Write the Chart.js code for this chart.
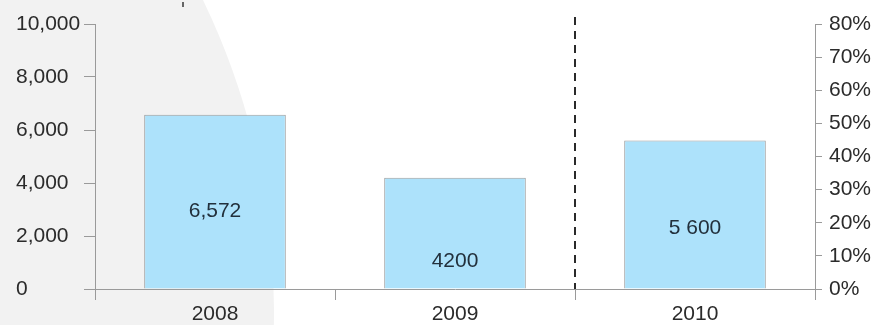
<!DOCTYPE html>
<html>
<head>
<meta charset="utf-8">
<script src="https://cdn.jsdelivr.net/npm/chart.js@4/dist/chart.umd.min.js"></script>
<style>
  html, body { margin: 0; padding: 0; background: #ffffff; }
  #wrap { width: 876px; height: 325px; position: relative; }
</style>
</head>
<body>
<div id="wrap"><canvas id="c" width="876" height="325"></canvas></div>
<script>
const categories = ['2008', '2009', '2010'];
const values = [6572, 4200, 5600];
const valueLabels = ['6,572', '4200', '5 600'];
const leftTicks = [0, 2000, 4000, 6000, 8000, 10000];
const rightTicks = [0, 10, 20, 30, 40, 50, 60, 70, 80];

const FONT = "'Liberation Sans', Arial, sans-serif";
const AXIS_GREY = '#9a9a9a';
const TEXT = '#2b2b2b';

const backgroundPlugin = {
  id: 'bgShape',
  beforeDraw(chart) {
    const ctx = chart.ctx;
    ctx.save();
    ctx.fillStyle = '#ffffff';
    ctx.fillRect(0, 0, chart.width, chart.height);
    ctx.beginPath();
    ctx.arc(-438, 310, 712, 0, Math.PI * 2);
    ctx.fillStyle = '#f2f2f2';
    ctx.fill();
    ctx.fillStyle = '#666666';
    ctx.fillRect(182, 2, 2, 5);
    ctx.restore();
  }
};

const labelFractions = [0.555, 0.75, 0.59];
const overlayPlugin = {
  id: 'overlay',
  afterDatasetsDraw(chart) {
    const ctx = chart.ctx;
    const meta = chart.getDatasetMeta(0);
    const x = chart.scales.x;
    const area = chart.chartArea;
    ctx.save();
    ctx.font = '21px ' + FONT;
    ctx.fillStyle = '#22303c';
    ctx.textAlign = 'center';
    ctx.textBaseline = 'middle';
    meta.data.forEach((bar, i) => {
      const y = bar.y + (bar.base - bar.y) * labelFractions[i];
      ctx.fillText(valueLabels[i], bar.x, y);
    });
    const sx = Math.round((x.getPixelForValue(1) + x.getPixelForValue(2)) / 2);
    ctx.strokeStyle = '#2a2a2a';
    ctx.lineWidth = 2;
    ctx.setLineDash([8, 6]);
    ctx.beginPath();
    ctx.moveTo(sx, area.top - 7);
    ctx.lineTo(sx, area.bottom);
    ctx.stroke();
    ctx.restore();
  }
};

new Chart(document.getElementById('c'), {
  type: 'bar',
  data: {
    labels: categories,
    datasets: [{
      data: values,
      backgroundColor: '#ade2fb',
      borderColor: '#9c9c9c',
      borderWidth: 1,
      categoryPercentage: 1,
      barPercentage: 0.59,
      yAxisID: 'y'
    }]
  },
  options: {
    responsive: false,
    animation: false,
    events: [],
    layout: { padding: { left: 16, top: 24, right: 0, bottom: 0 } },
    plugins: { legend: { display: false }, tooltip: { enabled: false } },
    scales: {
      x: {
        position: 'bottom',
        offset: true,
        grid: { offset: true, drawOnChartArea: false, drawTicks: true, tickLength: 11, color: AXIS_GREY },
        border: { display: true, color: AXIS_GREY },
        ticks: { font: { family: FONT, size: 21 }, color: TEXT, padding: 2 },
        afterFit(s) { s.height = 36; }
      },
      y: {
        position: 'left',
        min: 0,
        max: 10000,
        afterBuildTicks(s) { s.ticks = leftTicks.map(v => ({ value: v })); },
        grid: { drawOnChartArea: false, drawTicks: true, tickLength: 11, color: AXIS_GREY },
        border: { display: true, color: AXIS_GREY },
        ticks: {
          crossAlign: 'far',
          font: { family: FONT, size: 21 },
          color: TEXT,
          callback: v => v.toLocaleString('en-US')
        },
        afterFit(s) { s.width = 79; }
      },
      y1: {
        position: 'right',
        min: 0,
        max: 80,
        afterBuildTicks(s) { s.ticks = rightTicks.map(v => ({ value: v })); },
        grid: { drawOnChartArea: false, drawTicks: true, tickLength: 7, color: AXIS_GREY },
        border: { display: true, color: AXIS_GREY },
        ticks: {
          padding: 7,
          font: { family: FONT, size: 21 },
          color: TEXT,
          callback: v => v + '%'
        },
        afterFit(s) { s.width = 61; }
      }
    }
  },
  plugins: [backgroundPlugin, overlayPlugin]
});
</script>
</body>
</html>
